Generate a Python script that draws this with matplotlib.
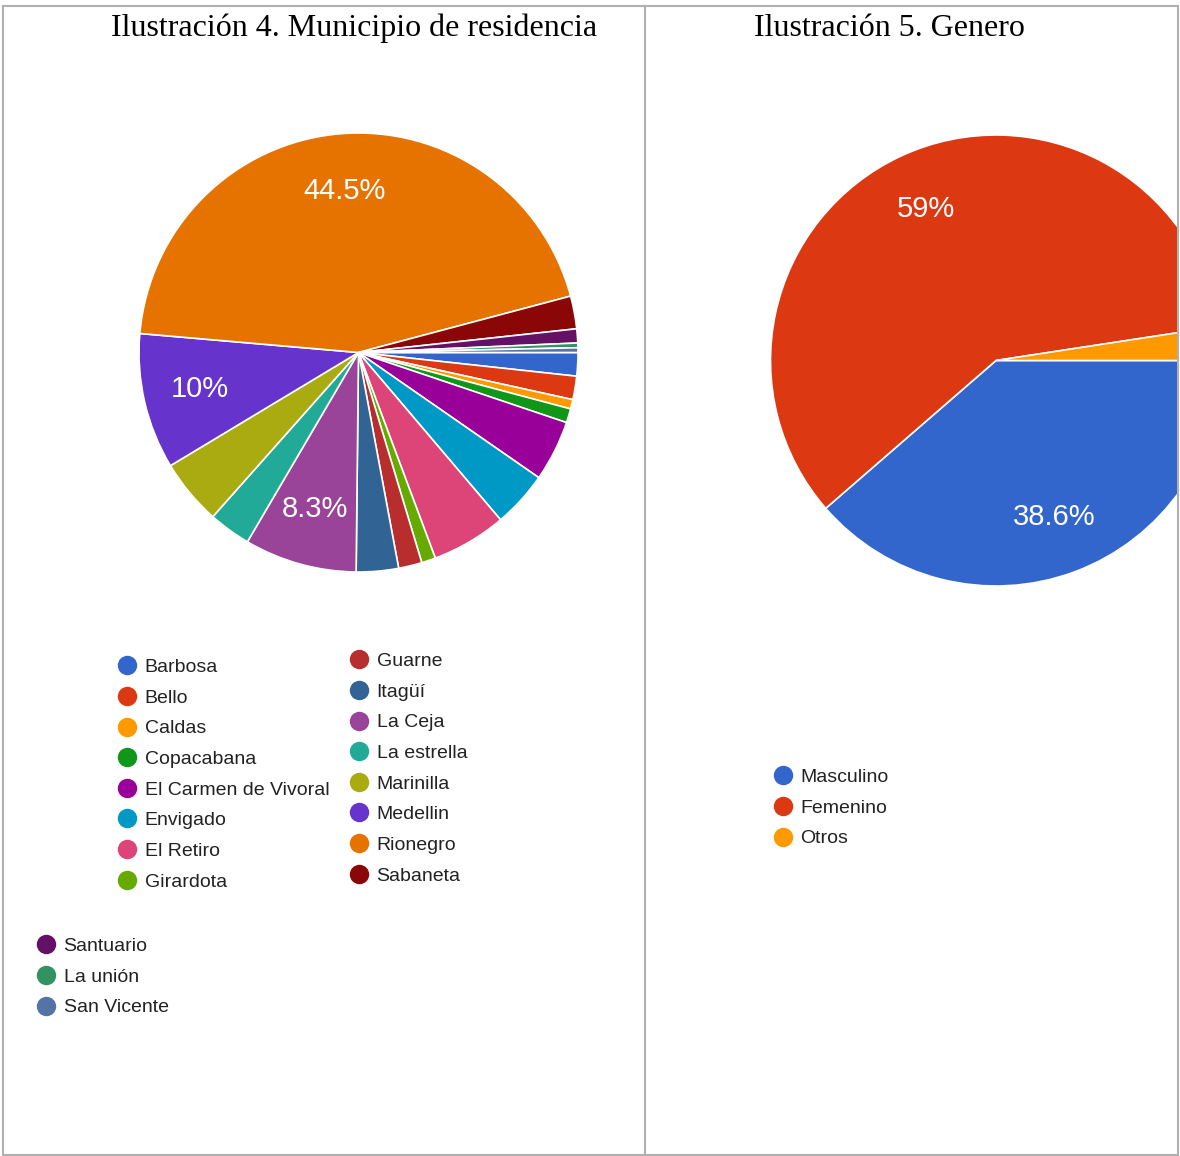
import matplotlib
matplotlib.use("Agg")
import matplotlib.pyplot as plt
from matplotlib.lines import Line2D

W, H = 1180, 1156

# municipio de residencia (responses, 290 total)
municipios = ["Barbosa", "Bello", "Caldas", "Copacabana", "El Carmen de Vivoral",
              "Envigado", "El Retiro", "Girardota", "Guarne", "Itagüí", "La Ceja",
              "La estrella", "Marinilla", "Medellin", "Rionegro", "Sabaneta",
              "Santuario", "La unión", "San Vicente"]
municipio_counts = [5, 5, 2, 3, 13, 12, 16, 3, 5, 9, 24, 9, 14, 29, 129, 7, 3, 1, 1]

generos = ["Masculino", "Femenino", "Otros"]
genero_counts = [112, 171, 7]

# google charts palette
palette = ["#3366cc", "#dc3912", "#ff9900", "#109618", "#990099", "#0099c6",
           "#dd4477", "#66aa00", "#b82e2e", "#316395", "#994499", "#22aa99",
           "#aaaa11", "#6633cc", "#e67300", "#8b0707", "#651067", "#329262",
           "#5574a6"]

sans = "Liberation Sans"

fig = plt.figure(figsize=(W / 100, H / 100), dpi=100)


def px_axes(x0, y0, x1, y1):
    return fig.add_axes([x0 / W, 1 - y1 / H, (x1 - x0) / W, (y1 - y0) / H])


def fmt_pct(p):
    if p < 8:
        return ""
    s = f"{p:.1f}".rstrip("0").rstrip(".")
    return s + "%"


def fmt_pct_g(p):
    if p < 5:
        return ""
    s = f"{p:.1f}".rstrip("0").rstrip(".")
    return s + "%"


# left pie
ax1 = px_axes(138.5, 133, 578.5, 572)
wedges, texts, auto = ax1.pie(municipio_counts, colors=palette, startangle=0,
                              counterclock=False, autopct=fmt_pct, pctdistance=0.74,
                              wedgeprops=dict(edgecolor="white", linewidth=1.2))
for t in auto:
    t.set_color("white")
    t.set_fontsize(21)
    t.set_family(sans)
ax1.set_xlim(-1, 1)
ax1.set_ylim(-1, 1)

# right pie, cut by the panel edge
r = 225.5
cx, cy = 996, 360.5
ax2 = px_axes(cx - r, cy - r, 1177, cy + r)
wedges2, texts2, auto2 = ax2.pie(genero_counts, colors=palette[:3], startangle=0,
                                 counterclock=False, autopct=fmt_pct_g, pctdistance=0.74,
                                 wedgeprops=dict(edgecolor="white", linewidth=1.2))
for t in auto2:
    t.set_color("white")
    t.set_fontsize(21)
    t.set_family(sans)
ax2.set_aspect("auto")
ax2.set_xlim(-1, (1177 - cx) / r)
ax2.set_ylim(-1, 1)
for w in wedges2:
    w.set_clip_on(True)

# titles
fig.text(354.5 / W, 1 - 28.5 / H, "Ilustración 4. Municipio de residencia",
         family="Liberation Serif", fontsize=23, ha="center", va="center")
fig.text(889 / W, 1 - 28.5 / H, "Ilustración 5. Genero",
         family="Liberation Serif", fontsize=23, ha="center", va="center")


def make_legend(labels, colors, left, center_y):
    handles = [Line2D([], [], marker="o", linestyle="", markersize=14,
                      markerfacecolor=c, markeredgewidth=0) for c in colors]
    leg = fig.legend(handles, labels, loc="center left",
                     bbox_to_anchor=(left / W, 1 - center_y / H),
                     frameon=False, borderpad=0, borderaxespad=0,
                     handlelength=1.0, handletextpad=0.42, labelspacing=0.67,
                     prop={"family": sans, "size": 14})
    for t in leg.get_texts():
        t.set_color("#222222")
    return leg


make_legend(municipios[:8], palette[:8], 117, 774.5)
make_legend(municipios[8:16], palette[8:16], 349, 768.5)
make_legend(municipios[16:], palette[16:19], 36, 977)
make_legend(generos, palette[:3], 773, 808)

# panel borders
border = "#b0b0b0"
for xs, ys in [((3, 1178), (6, 6)), ((3, 1178), (1155, 1155)),
               ((3, 3), (6, 1155)), ((645, 645), (6, 1155)),
               ((1178, 1178), (6, 1155))]:
    fig.add_artist(Line2D([x / W for x in xs], [1 - y / H for y in ys],
                          color=border, linewidth=1.5))

fig.savefig("out.png", dpi=100)
